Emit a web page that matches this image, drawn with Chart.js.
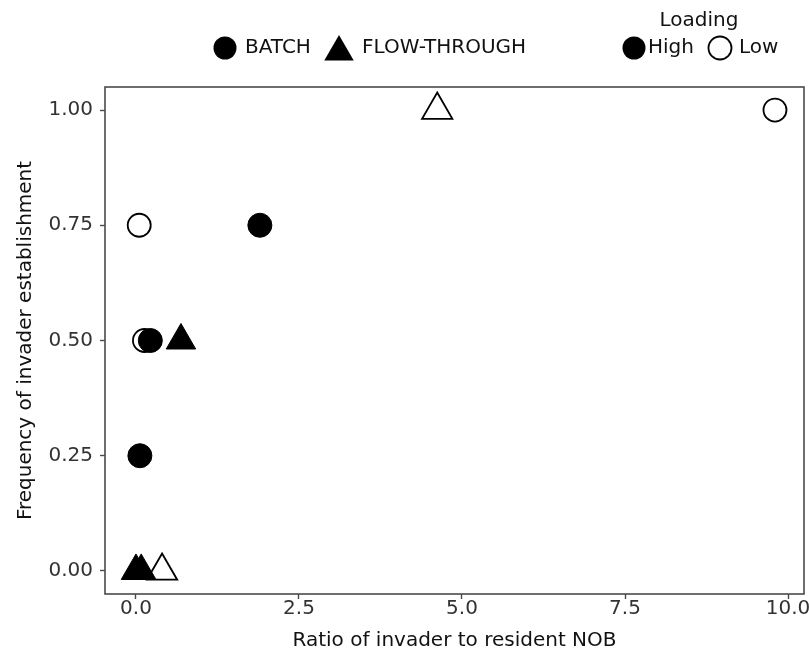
<!DOCTYPE html>
<html>
<head>
<meta charset="utf-8">
<script src="https://cdn.jsdelivr.net/npm/chart.js@4/dist/chart.umd.min.js"></script>
<style>
html, body { margin: 0; padding: 0; background: #fff; }
#wrap { width: 809px; height: 654px; }
</style>
</head>
<body>
<div id="wrap"><canvas id="c" width="809" height="654"></canvas></div>
<script>
// Invader establishment frequency vs. invader:resident NOB ratio,
// split by reactor type (shape) and loading (fill).
const batchHighX = [1.90, 0.22, 0.06];
const batchHighY = [0.75, 0.50, 0.25];
const batchLowX  = [9.80, 0.05, 0.13];
const batchLowY  = [1.00, 0.75, 0.50];
const flowHighX  = [0.69, 0.00, 0.08];
const flowHighY  = [0.50, 0.00, 0.00];
const flowLowX   = [4.62, 0.40];
const flowLowY   = [1.00, 0.00];

const xTickValues = [0, 2.5, 5, 7.5, 10];
const yTickValues = [0, 0.25, 0.5, 0.75, 1];

const reactorLabels = ['BATCH', 'FLOW-THROUGH'];
const loadingTitle = 'Loading';
const loadingLabels = ['High', 'Low'];
const xTitle = 'Ratio of invader to resident NOB';
const yTitle = 'Frequency of invader establishment';

const FONT = '"DejaVu Sans", Verdana, sans-serif';
const INK = '#000000';
const FRAME = '#4a4a4a';

function pairs(xs, ys) {
  return xs.map((x, i) => ({ x: x, y: ys[i] }));
}

// Panel frame drawn on all four sides
const framePlugin = {
  id: 'frame',
  beforeDatasetsDraw(chart) {
    const a = chart.chartArea;
    const ctx = chart.ctx;
    ctx.save();
    ctx.strokeStyle = FRAME;
    ctx.lineWidth = 1.6;
    ctx.strokeRect(a.left, a.top, a.right - a.left, a.bottom - a.top);
    ctx.restore();
  }
};

function drawCircle(ctx, x, y, r, filled) {
  ctx.beginPath();
  ctx.arc(x, y, r, 0, Math.PI * 2);
  if (filled) {
    ctx.fillStyle = INK;
    ctx.fill();
  } else {
    ctx.lineWidth = 1.8;
    ctx.strokeStyle = INK;
    ctx.stroke();
  }
}

function drawTriangle(ctx, x, y, r) {
  ctx.beginPath();
  for (let k = 0; k < 3; k++) {
    const ang = k * 2 * Math.PI / 3;
    const px = x + Math.sin(ang) * r;
    const py = y - Math.cos(ang) * r;
    if (k === 0) ctx.moveTo(px, py); else ctx.lineTo(px, py);
  }
  ctx.closePath();
  ctx.fillStyle = INK;
  ctx.fill();
}

// Two legend groups across the top: reactor type and loading
const legendPlugin = {
  id: 'twoLegends',
  afterDraw(chart) {
    const ctx = chart.ctx;
    const rowY = 48;
    ctx.save();
    ctx.font = '20px ' + FONT;
    ctx.fillStyle = '#111';
    ctx.textBaseline = 'middle';
    ctx.textAlign = 'left';

    drawCircle(ctx, 225, rowY, 11.5, true);
    ctx.fillStyle = '#111';
    ctx.fillText(reactorLabels[0], 245, rowY);

    drawTriangle(ctx, 339, rowY + 4, 17);
    ctx.fillStyle = '#111';
    ctx.fillText(reactorLabels[1], 362, rowY);

    ctx.textAlign = 'center';
    ctx.fillText(loadingTitle, 699, 21);

    ctx.textAlign = 'left';
    drawCircle(ctx, 634, rowY, 11.5, true);
    ctx.fillStyle = '#111';
    ctx.fillText(loadingLabels[0], 648, rowY);
    drawCircle(ctx, 720, rowY, 11.5, false);
    ctx.fillStyle = '#111';
    ctx.fillText(loadingLabels[1], 739, rowY);
    ctx.restore();
  }
};

Chart.defaults.font.family = FONT;

new Chart(document.getElementById('c'), {
  type: 'scatter',
  data: {
    datasets: [
      {
        label: 'BATCH High',
        data: pairs(batchHighX, batchHighY),
        pointStyle: 'circle',
        pointRadius: 12,
        pointHoverRadius: 12,
        borderWidth: 1,
        backgroundColor: INK,
        borderColor: INK
      },
      {
        label: 'FLOW-THROUGH High',
        data: pairs(flowHighX, flowHighY),
        pointStyle: 'triangle',
        pointRadius: 17,
        pointHoverRadius: 17,
        borderWidth: 1,
        backgroundColor: INK,
        borderColor: INK
      },
      {
        label: 'BATCH Low',
        data: pairs(batchLowX, batchLowY),
        pointStyle: 'circle',
        pointRadius: 11.5,
        pointHoverRadius: 11.5,
        borderWidth: 1.8,
        backgroundColor: 'rgba(0,0,0,0)',
        borderColor: INK
      },
      {
        label: 'FLOW-THROUGH Low',
        data: pairs(flowLowX, flowLowY),
        pointStyle: 'triangle',
        pointRadius: 17.5,
        pointHoverRadius: 17.5,
        borderWidth: 1.8,
        backgroundColor: 'rgba(0,0,0,0)',
        borderColor: INK
      }
    ]
  },
  options: {
    responsive: false,
    animation: false,
    devicePixelRatio: 1,
    events: [],
    layout: {
      autoPadding: false,
      padding: { top: 87, right: 5, bottom: 0, left: 0 }
    },
    plugins: {
      legend: { display: false },
      tooltip: { enabled: false }
    },
    scales: {
      x: {
        type: 'linear',
        min: -0.475,
        max: 10.245,
        afterBuildTicks(scale) {
          scale.ticks = xTickValues.map(v => ({ value: v }));
        },
        afterFit(scale) {
          scale.height = 60;
          scale.paddingLeft = 0;
          scale.paddingRight = 0;
        },
        border: { display: false },
        grid: {
          drawOnChartArea: false,
          drawTicks: true,
          tickLength: 5,
          tickColor: FRAME,
          tickWidth: 1.4
        },
        ticks: {
          color: '#333',
          font: { size: 20 },
          padding: -2,
          maxRotation: 0,
          autoSkip: false,
          callback: v => Number(v).toFixed(1)
        },
        title: {
          display: true,
          text: xTitle,
          color: '#111',
          font: { size: 20 },
          padding: { top: 0, bottom: 1 }
        }
      },
      y: {
        type: 'linear',
        min: -0.05,
        max: 1.05,
        afterBuildTicks(scale) {
          scale.ticks = yTickValues.map(v => ({ value: v }));
        },
        afterFit(scale) {
          scale.width = 105;
          scale.paddingTop = 0;
          scale.paddingBottom = 0;
        },
        border: { display: false },
        grid: {
          drawOnChartArea: false,
          drawTicks: true,
          tickLength: 5,
          tickColor: FRAME,
          tickWidth: 1.4
        },
        ticks: {
          color: '#333',
          font: { size: 20 },
          padding: 7,
          autoSkip: false,
          callback: v => Number(v).toFixed(2)
        },
        title: {
          display: true,
          text: yTitle,
          color: '#111',
          font: { size: 20 },
          padding: { top: 14, bottom: 0 }
        }
      }
    }
  },
  plugins: [framePlugin, legendPlugin]
});
</script>
</body>
</html>
